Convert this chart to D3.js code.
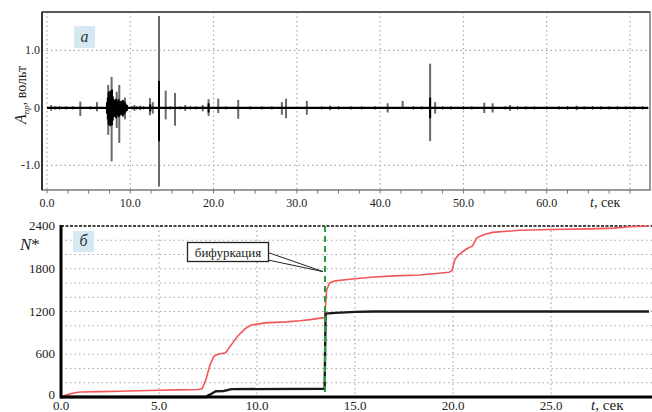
<!DOCTYPE html>
<html>
<head>
<meta charset="utf-8">
<script src="https://cdn.jsdelivr.net/npm/d3@7"></script>
<style>
  body { margin: 0; background: #fff; }
</style>
</head>
<body>
<div id="chart"></div>
<script>
// ---- data: panel а (signal spikes) ----
const spikeT  = [0.5, 1.0, 4.0, 6.0, 7.35, 7.76, 8.37, 8.68, 9.36, 10.5, 11.2, 12.36, 12.7, 13.45, 14.25, 15.37, 16.6, 18.7, 19.4, 20.56, 22.96, 28.2, 28.7, 31.2, 34.0, 40.9, 42.7, 46.0, 46.6, 52.5, 53.5, 55.6, 63.6];
const spikeHi = [0.05, 0.03, 0.11, 0.10, 0.40, 0.54, 0.28, 0.40, 0.18, 0.05, 0.04, 0.17, 0.10, 1.60, 0.30, 0.26, 0.05, 0.05, 0.15, 0.16, 0.14, 0.10, 0.16, 0.12, 0.04, 0.08, 0.12, 0.77, 0.10, 0.09, 0.08, 0.05, 0.04];
const spikeLo = [-0.05, -0.03, -0.14, -0.06, -0.47, -0.93, -0.35, -0.61, -0.20, -0.05, -0.04, -0.13, -0.10, -1.37, -0.20, -0.31, -0.05, -0.06, -0.14, -0.09, -0.19, -0.12, -0.18, -0.12, -0.04, -0.08, -0.02, -0.58, -0.10, -0.09, -0.08, -0.05, -0.04];

// dense black burst and strong cores
const burstT  = [7.2, 7.3, 7.4, 7.5, 7.6, 7.7, 7.8, 7.9, 8.0, 8.1, 8.2, 8.3, 8.4, 8.5, 8.6, 8.7, 8.8, 8.9, 9.0, 9.1, 9.2, 9.3, 9.4, 9.5, 9.6, 13.45, 46.0, 19.4, 12.4];
const burstHi = [0.10, 0.18, 0.28, 0.22, 0.30, 0.25, 0.32, 0.20, 0.15, 0.14, 0.12, 0.16, 0.12, 0.10, 0.15, 0.12, 0.10, 0.12, 0.10, 0.14, 0.12, 0.10, 0.08, 0.06, 0.05, 0.47, 0.18, 0.08, 0.06];
const burstLo = [-0.10, -0.20, -0.30, -0.25, -0.32, -0.28, -0.30, -0.22, -0.16, -0.15, -0.14, -0.18, -0.13, -0.12, -0.16, -0.14, -0.11, -0.12, -0.12, -0.15, -0.12, -0.10, -0.08, -0.06, -0.05, -0.58, -0.18, -0.08, -0.06];

// small noise ticks along the baseline
const noiseT = [1.5, 2.3, 3.1, 5.2, 10.2, 10.8, 11.6, 14.8, 16.0, 17.2, 17.9, 21.5, 24.4, 25.8, 27.0, 33.0, 35.0, 36.5, 37.8, 39.4, 44.0, 45.0, 47.5, 48.5, 50.0, 51.0, 55.0, 56.5, 57.5, 58.5, 60.0, 61.5, 62.5, 64.5, 65.5, 66.5, 67.5, 68.5, 69.5, 70.5, 71.5];

const xTicksA = [0, 10, 20, 30, 40, 50, 60];
const yTicksA = [1.0, 0, -1.0];

// ---- data: panel б (cumulative counts) ----
const redT = [0, 0.3, 0.7, 1.0, 2, 3, 4, 5, 6, 7, 7.2, 7.4, 7.6, 7.8, 8.0, 8.4, 8.6, 9.0, 9.4, 9.7, 10.4, 11.5, 12.2, 12.8, 13.3, 13.45, 13.5, 13.55, 13.7, 14.0, 14.5, 15.0, 15.8, 17, 18.3, 19, 19.8, 19.95, 20.1, 20.3, 20.7, 21.0, 21.2, 21.5, 22, 23.4, 25, 27, 28.2, 29, 30];
const redN = [0, 30, 60, 70, 75, 80, 88, 95, 100, 105, 115, 250, 450, 570, 600, 620, 700, 850, 960, 1010, 1040, 1055, 1070, 1090, 1110, 1110, 1300, 1500, 1600, 1630, 1645, 1660, 1680, 1700, 1712, 1730, 1750, 1780, 1930, 2000, 2080, 2120, 2230, 2270, 2310, 2340, 2350, 2360, 2370, 2390, 2400];
const blackT = [0, 7.4, 7.5, 7.7, 7.9, 8.3, 8.7, 13.45, 13.5, 14.0, 15.0, 16, 30];
const blackN = [0, 0, 20, 50, 80, 85, 110, 115, 1170, 1180, 1195, 1200, 1200];

const xTicksB = [0, 5, 10, 15, 20, 25];
const yTicksB = [0, 600, 1200, 1800, 2400];
const tBif = 13.47;

// ---- layout ----
const W = 652, H = 412;
const FONT = "Liberation Serif";
const svg = d3.select("#chart").append("svg").attr("width", W).attr("height", H)
  .style("display", "block");

// panel а scales
const xA = d3.scaleLinear().domain([-0.6, 72.4]).range([42, 650]);
const yA = d3.scaleLinear().domain([-1.43, 1.67]).range([190, 12]);

// panel б scales
const xB = d3.scaleLinear().domain([0, 30]).range([61, 649]);
const yB = d3.scaleLinear().domain([0, 2400]).range([397, 226]);

// ===== panel а =====
const gA = svg.append("g");

// grid
gA.selectAll(".vgA").data(d3.range(0, 71, 10)).join("line")
  .attr("x1", d => xA(d)).attr("x2", d => xA(d))
  .attr("y1", yA.range()[1]).attr("y2", yA.range()[0])
  .attr("stroke", "#aaa").attr("stroke-width", 1.2).attr("stroke-dasharray", "1.5,3");
gA.selectAll(".hgA").data([1, -1]).join("line")
  .attr("x1", xA.range()[0]).attr("x2", xA.range()[1])
  .attr("y1", d => yA(d)).attr("y2", d => yA(d))
  .attr("stroke", "#aaa").attr("stroke-width", 1.2).attr("stroke-dasharray", "1.5,3");

// minor ticks on bottom edge
gA.selectAll(".mtA").data(d3.range(0, 72.5, 2.5)).join("line")
  .attr("x1", d => xA(d)).attr("x2", d => xA(d))
  .attr("y1", 190).attr("y2", 193.5)
  .attr("stroke", "#777").attr("stroke-width", 1);

// gray spikes
gA.selectAll(".spk").data(spikeT).join("line")
  .attr("x1", d => xA(d)).attr("x2", d => xA(d))
  .attr("y1", (d, i) => yA(spikeHi[i])).attr("y2", (d, i) => yA(spikeLo[i]))
  .attr("stroke", "#6a6a6a").attr("stroke-width", 2);

// noise ticks
gA.selectAll(".nz").data(noiseT).join("line")
  .attr("x1", d => xA(d)).attr("x2", d => xA(d))
  .attr("y1", yA(0.03)).attr("y2", yA(-0.03))
  .attr("stroke", "#333").attr("stroke-width", 1.2);

// baseline
gA.append("line")
  .attr("x1", xA(0)).attr("x2", xA(72.2))
  .attr("y1", yA(0)).attr("y2", yA(0))
  .attr("stroke", "#000").attr("stroke-width", 2.2);

// black burst
gA.selectAll(".bst").data(burstT).join("line")
  .attr("x1", d => xA(d)).attr("x2", d => xA(d))
  .attr("y1", (d, i) => yA(burstHi[i])).attr("y2", (d, i) => yA(burstLo[i]))
  .attr("stroke", "#000").attr("stroke-width", 2);

// frame
gA.append("rect")
  .attr("x", xA.range()[0]).attr("y", yA.range()[1])
  .attr("width", xA.range()[1] - xA.range()[0]).attr("height", yA.range()[0] - yA.range()[1])
  .attr("fill", "none").attr("stroke", "#666").attr("stroke-width", 1.3);
gA.append("line").attr("x1", 42).attr("x2", 42).attr("y1", 12).attr("y2", 190)
  .attr("stroke", "#333").attr("stroke-width", 2);
gA.append("line").attr("x1", 42).attr("x2", 650).attr("y1", 12).attr("y2", 12)
  .attr("stroke", "#444").attr("stroke-width", 1.6);

// tick labels
gA.selectAll(".xlA").data(xTicksA).join("text")
  .attr("x", d => xA(d)).attr("y", 207)
  .attr("text-anchor", "middle").attr("font-size", 12).attr("fill", "#222")
  .style("font-family", FONT)
  .text(d => d.toFixed(1));
gA.selectAll(".ylA").data(yTicksA).join("text")
  .attr("x", 40).attr("y", d => yA(d) + 4)
  .attr("text-anchor", "end").attr("font-size", 12).attr("fill", "#222")
  .style("font-family", FONT)
  .text(d => d === 0 ? "0" : d.toFixed(1));

// axis titles
const tA = gA.append("text").attr("x", 590).attr("y", 207).attr("font-size", 14).attr("fill", "#222")
  .style("font-family", FONT);
tA.append("tspan").attr("font-style", "italic").text("t");
tA.append("tspan").text(",  сек");

const yt = gA.append("text")
  .attr("transform", "translate(26,124) rotate(-90)")
  .attr("font-size", 14).attr("fill", "#222").style("font-family", FONT);
yt.append("tspan").attr("font-style", "italic").attr("font-size", 16).text("A");
yt.append("tspan").attr("font-style", "italic").attr("font-size", 9).attr("dy", 3).text("пр");
yt.append("tspan").attr("dy", -3).text(", вольт");

// panel label а
gA.append("rect").attr("x", 74).attr("y", 26).attr("width", 21).attr("height", 22).attr("fill", "#d5e9f3");
gA.append("text").attr("x", 84.5).attr("y", 42).attr("text-anchor", "middle")
  .attr("font-size", 16).attr("font-style", "italic").attr("fill", "#333")
  .style("font-family", FONT).text("а");

// ===== panel б =====
const gB = svg.append("g");

gB.selectAll(".hgB").data(d3.range(200, 2400, 200)).join("line")
  .attr("x1", xB(0)).attr("x2", W)
  .attr("y1", d => yB(d)).attr("y2", d => yB(d))
  .attr("stroke", "#aaa").attr("stroke-width", 1.2).attr("stroke-dasharray", "1.5,3");
gB.selectAll(".vgB").data([5, 10, 15, 20, 25]).join("line")
  .attr("x1", d => xB(d)).attr("x2", d => xB(d))
  .attr("y1", yB(2400)).attr("y2", yB(0))
  .attr("stroke", "#aaa").attr("stroke-width", 1.2).attr("stroke-dasharray", "1.5,3");

// top edge
gB.append("line").attr("x1", xB(0)).attr("x2", W).attr("y1", yB(2400)).attr("y2", yB(2400))
  .attr("stroke", "#444").attr("stroke-width", 2).attr("stroke-dasharray", "3,1.5");

// curves
const line = d3.line().x(d => xB(d[0])).y(d => yB(d[1]));
gB.append("path").datum(d3.zip(redT, redN))
  .attr("fill", "none").attr("stroke", "#f25757").attr("stroke-width", 1.6).attr("d", line);
gB.append("path").datum(d3.zip(blackT, blackN))
  .attr("fill", "none").attr("stroke", "#1a1a1a").attr("stroke-width", 2.4).attr("d", line);

// bifurcation line
gB.append("line").attr("x1", xB(tBif)).attr("x2", xB(tBif)).attr("y1", yB(2400)).attr("y2", yB(0))
  .attr("stroke", "#2a9b3c").attr("stroke-width", 2).attr("stroke-dasharray", "6,4");

// axes frame
gB.append("line").attr("x1", xB(0)).attr("x2", W).attr("y1", yB(0)).attr("y2", yB(0))
  .attr("stroke", "#000").attr("stroke-width", 3);
gB.append("line").attr("x1", xB(0)).attr("x2", xB(0)).attr("y1", yB(2400) - 1).attr("y2", yB(0) + 1.5)
  .attr("stroke", "#000").attr("stroke-width", 3);

// tick labels
gB.selectAll(".xlB").data(xTicksB).join("text")
  .attr("x", d => xB(d)).attr("y", 410)
  .attr("text-anchor", "middle").attr("font-size", 13).attr("fill", "#222")
  .style("font-family", FONT)
  .text(d => d.toFixed(1));
gB.selectAll(".ylB").data(yTicksB).join("text")
  .attr("x", 55).attr("y", d => yB(d) + (d === 0 ? 2 : 4))
  .attr("text-anchor", "end").attr("font-size", 13).attr("fill", "#222")
  .style("font-family", FONT)
  .text(d => d);

const tB = gB.append("text").attr("x", 591).attr("y", 410).attr("font-size", 15).attr("fill", "#222")
  .style("font-family", FONT);
tB.append("tspan").attr("font-style", "italic").text("t");
tB.append("tspan").text(",  сек");

const nl = gB.append("text").attr("x", 20).attr("y", 250).attr("font-size", 17).attr("fill", "#222")
  .style("font-family", FONT);
nl.append("tspan").attr("font-style", "italic").text("N");
nl.append("tspan").text("*");

// panel label б
gB.append("rect").attr("x", 73).attr("y", 231).attr("width", 21).attr("height", 21).attr("fill", "#d5e9f3");
gB.append("text").attr("x", 83.5).attr("y", 246).attr("text-anchor", "middle")
  .attr("font-size", 16).attr("font-style", "italic").attr("fill", "#333")
  .style("font-family", FONT).text("б");

// annotation
gB.append("polygon")
  .attr("points", `268,252.5 ${xB(tBif) - 2},${yB(1760)} 268,260`)
  .attr("fill", "#fff").attr("stroke", "#222").attr("stroke-width", 1);
gB.append("rect").attr("x", 187.5).attr("y", 242.5).attr("width", 81).attr("height", 19)
  .attr("fill", "#fff").attr("stroke", "#222").attr("stroke-width", 1.3);
gB.append("text").attr("x", 228).attr("y", 256.5).attr("text-anchor", "middle")
  .attr("font-size", 13).attr("fill", "#222")
  .style("font-family", FONT).text("бифуркация");
</script>
</body>
</html>
